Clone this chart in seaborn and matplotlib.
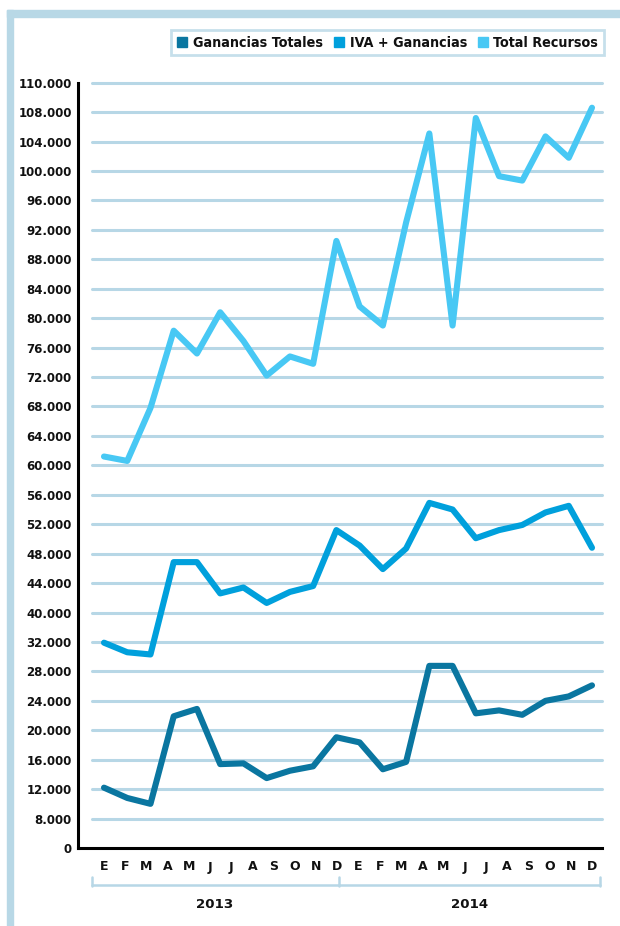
import numpy as np
import pandas as pd
import matplotlib
matplotlib.use("Agg")
import matplotlib.pyplot as plt
from matplotlib.lines import Line2D
from matplotlib.patches import Rectangle
from matplotlib import font_manager
import seaborn as sns

# ---------------- data ----------------
series_names = ["Ganancias Totales", "IVA + Ganancias", "Total Recursos"]
ganancias_totales = [12200, 10800, 10000, 21900, 22900, 15400, 15500, 13500, 14500, 15100,
                     19050, 18350, 14700, 15700, 28750, 28750, 22300, 22700, 22100, 24000,
                     24600, 26100]
iva_ganancias = [31900, 30600, 30300, 46850, 46850, 42600, 43400, 41300, 42800, 43600,
                 51200, 49100, 45900, 48700, 54900, 54000, 50100, 51200, 51900, 53600,
                 54500, 48800]
total_recursos = [61200, 60600, 67800, 78300, 75200, 80800, 76900, 72200, 74800, 73800,
                  90500, 81600, 79000, 93000, 105100, 79000, 107200, 99300, 98700, 104700,
                  101800, 108300]
month_labels = ["E", "F", "M", "A", "M", "J", "J", "A", "S", "O", "N", "D",
                "E", "F", "M", "A", "M", "J", "J", "A", "S", "O", "N", "D"]
year_labels = ["2013", "2014"]
y_tick_values = [0, 8000, 12000, 16000, 20000, 24000, 28000, 32000, 40000, 44000, 48000,
                 52000, 56000, 60000, 64000, 68000, 72000, 76000, 80000, 84000, 88000,
                 92000, 96000, 100000, 104000, 108000, 110000]

colors = {"Ganancias Totales": "#0a76a0",
          "IVA + Ganancias": "#00a0dc",
          "Total Recursos": "#48c8f4"}

rows = []
for name, vals in zip(series_names, [ganancias_totales, iva_ganancias, total_recursos]):
    for i, v in enumerate(vals):
        rows.append({"idx": i, "valor": v, "serie": name})
df = pd.DataFrame(rows)

# ---------------- style ----------------
sns.set_style("white")
plt.rcParams["font.family"] = ["DejaVu Sans"]
plt.rcParams["font.weight"] = "bold"

# pick a condensed bold face if one is installed
cond_file = None
for f in font_manager.fontManager.ttflist:
    nm = f.name.lower()
    if ("narrow" in nm or "condensed" in nm or f.stretch in ("condensed", "semi-condensed")) \
            and f.weight in ("bold", 700, "semibold", 600):
        cond_file = f.fname
        if "dejavu" in nm or "liberation" in nm:
            break
if cond_file is not None:
    leg_prop = font_manager.FontProperties(fname=cond_file, size=10.3)
else:
    leg_prop = font_manager.FontProperties(family="DejaVu Sans", weight="bold", size=8.8)

W, H = 620, 926
fig = plt.figure(figsize=(W / 100, H / 100), dpi=100)

def fx(px):
    return px / W

def fy(py):
    return 1 - py / H

ax_left, ax_right, ax_top, ax_bottom = 78, 602, 82.7, 848
ax = fig.add_axes([fx(ax_left), fy(ax_bottom), fx(ax_right - ax_left), (ax_bottom - ax_top) / H])

# evenly spaced, irregular ticks through matplotlib's function scale
tick_pos = np.arange(len(y_tick_values), dtype=float)
tv = np.array(y_tick_values, dtype=float)

def fwd(v):
    return np.interp(v, tv, tick_pos)

def inv(p):
    return np.interp(p, tick_pos, tv)

ax.set_yscale("function", functions=(fwd, inv))

grid_color = "#b7d7e6"
for v in y_tick_values[1:]:
    ax.axhline(v, xmin=(92 - ax_left) / (ax_right - ax_left), xmax=1,
               color=grid_color, lw=2.2, zorder=1)

sns.lineplot(data=df, x="idx", y="valor", hue="serie", palette=colors,
             hue_order=series_names, linewidth=4.4, ax=ax, legend=False,
             solid_joinstyle="round", solid_capstyle="round", zorder=3)
for ln in ax.lines:
    ln.set_clip_on(False)

px_per = (592 - 104) / 21
ax.set_xlim(-(104 - ax_left) / px_per, 21 + (ax_right - 592) / px_per)
ax.set_ylim(0, 110000)

ax.set_yticks(y_tick_values)
ax.set_yticklabels([f"{v:,}".replace(",", ".") for v in y_tick_values])
ax.yaxis.set_minor_locator(matplotlib.ticker.NullLocator())
ax.set_xticks(np.linspace(0, 21, 24))
ax.set_xticklabels(month_labels)
ax.set_xlabel("")
ax.set_ylabel("")

ax.tick_params(axis="y", direction="in", length=9.4, width=2.2, color="black",
               pad=4.5, labelsize=8.5, labelcolor="#111111")
ax.tick_params(axis="x", length=0, pad=9, labelsize=9, labelcolor="#111111")
for lab in ax.get_xticklabels() + ax.get_yticklabels():
    lab.set_fontweight("bold")

for s in ["top", "right"]:
    ax.spines[s].set_visible(False)
for s in ["left", "bottom"]:
    ax.spines[s].set_linewidth(2.2)
    ax.spines[s].set_color("black")
    ax.spines[s].set_zorder(4)

# year brackets
bc = "#b7d7e6"
for x0, x1 in [(92, 339), (339, 600)]:
    fig.add_artist(Line2D([fx(x0), fx(x1)], [fy(885), fy(885)], transform=fig.transFigure,
                          color=bc, lw=1.8))
for xv in [92, 339, 600]:
    fig.add_artist(Line2D([fx(xv), fx(xv)], [fy(877), fy(886)], transform=fig.transFigure,
                          color=bc, lw=1.8))
for xc, yl in zip([215, 470], year_labels):
    fig.text(fx(xc), fy(904), yl, ha="center", va="center", fontsize=9.6,
             fontweight="bold", color="#111111")

# outer frame strips
frame_c = "#b8d8e6"
fig.patches.append(Rectangle((fx(7), 0), fx(6), fy(10), transform=fig.transFigure,
                             color=frame_c, zorder=0))
fig.patches.append(Rectangle((fx(7), fy(17)), 1 - fx(7), 7 / H, transform=fig.transFigure,
                             color=frame_c, zorder=0))

# legend
handles = [Line2D([], [], marker="s", linestyle="none", markersize=7.6,
                  markerfacecolor=colors[n], markeredgecolor=colors[n]) for n in series_names]
leg = fig.legend(handles, series_names, loc="upper right",
                 bbox_to_anchor=(fx(604), fy(30)), bbox_transform=fig.transFigure,
                 ncol=3, frameon=True, fancybox=False, edgecolor=frame_c,
                 handlelength=0.8, handletextpad=0.35, columnspacing=0.7,
                 borderpad=0.4, borderaxespad=0, prop=leg_prop)
leg.get_frame().set_linewidth(2)
for t in leg.get_texts():
    t.set_color("#111111")

fig.savefig("out.png", dpi=100)
